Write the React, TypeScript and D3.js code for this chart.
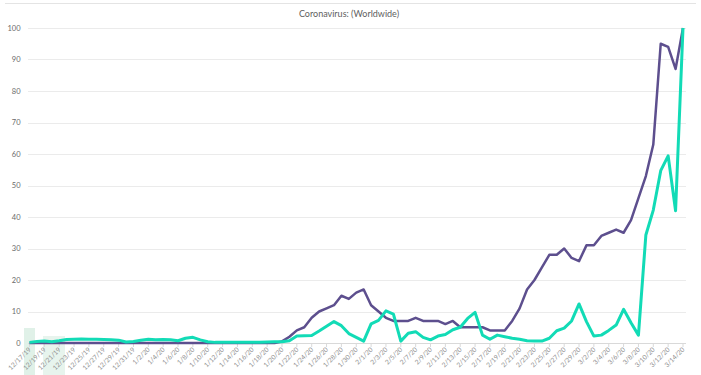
import { useMemo } from "react";
import * as d3 from "d3";

const W = 701;
const H = 375;

const TITLE = "Coronavirus: (Worldwide)";

// daily categories, 12/17/19 .. 3/14/20
const START_DATE = new Date(2019, 11, 17);
const END_DATE = new Date(2020, 2, 14);

const Y_TICKS = [0, 10, 20, 30, 40, 50, 60, 70, 80, 90, 100];

// purple series (one value per day)
const purpleValues = [
  0, 0, 0, 0, 0, 0, 0, 0, 0, 0, 0, 0, 0, 0, 0, 0, 0,
  0, 0, 0, 0, 0, 0, 0, 0, 0, 0, 0, 0, 0, 0, 0, 0, 0,
  0.5, 2, 4, 5, 8, 10, 11, 12, 15, 14, 16, 17, 12, 10, 8, 7, 7,
  7, 8, 7, 7, 7, 6, 7, 5, 5, 5, 5, 4, 4, 4, 7, 11, 17,
  20, 24, 28, 28, 30, 27, 26, 31, 31, 34, 35, 36, 35, 39, 46, 53, 63,
  95, 94, 87, 100,
];

// teal series (one value per day)
const tealValues = [
  0.2, 0.5, 0.6, 0.4, 0.7, 1.1, 1.2, 1.3, 1.2, 1.2, 1.1, 1.0, 0.9, 0.3, 0.5, 0.9, 1.2,
  1.0, 1.1, 1.0, 0.7, 1.5, 1.8, 1.0, 0.4, 0.2, 0.2, 0.2, 0.2, 0.2, 0.2, 0.2, 0.3, 0.4,
  0.4, 0.7, 2.2, 2.3, 2.4, 3.8, 5.3, 6.8, 5.5, 3, 1.8, 0.6, 6.1, 7.2, 10.2, 9.2, 0.6,
  3.1, 3.6, 1.8, 1, 2.2, 2.7, 4.2, 5, 7.8, 9.7, 2.5, 1.2, 2.5, 2, 1.5, 1.2, 0.7,
  0.6, 0.6, 1.5, 3.9, 4.7, 7, 12.4, 6.8, 2.2, 2.5, 4, 5.7, 10.7, 6.4, 2.5, 34.3, 42.2,
  54.7, 59.4, 42, 100,
];

const PURPLE = "#5d4f8e";
const TEAL = "#12dbb6";

const fmt = d3.timeFormat("%-m/%-d/%y");

export default function App() {
  const dates = useMemo(() => d3.timeDay.range(START_DATE, d3.timeDay.offset(END_DATE, 1)), []);

  const x = d3.scaleTime().domain([START_DATE, END_DATE]).range([29.5, 683]);
  const y = d3.scaleLinear().domain([0, 100]).range([343, 28]);

  const labelDates = dates.filter((_, i) => i % 2 === 0);

  const line = d3
    .line<number>()
    .x((_, i) => x(dates[i]))
    .y((d) => y(d));

  return (
    <svg
      width={W}
      height={H}
      style={{ position: "absolute", left: 0, top: 0, background: "#fff" }}
      fontFamily="Lato, 'Open Sans', sans-serif"
    >
      {/* bottom edge of the chart above */}
      <line x1={5} x2={696} y1={3.5} y2={3.5} stroke="#e4e4e4" />

      {/* faint watermark blocks */}
      <rect x={24} y={328} width={11} height={47} fill="#d8eee2" opacity={0.8} />
      <rect x={43} y={336} width={22} height={39} fill="#ddf0e6" opacity={0.7} />

      <text x={349} y={17} textAnchor="middle" fontSize={9} fill="#606060">
        {TITLE}
      </text>

      {/* gridlines + y labels */}
      {Y_TICKS.map((t) => (
        <g key={t}>
          <line
            x1={28}
            x2={686}
            y1={Math.round(y(t)) + 0.5}
            y2={Math.round(y(t)) + 0.5}
            stroke={t === 0 ? "#d9d9d9" : "#ebebeb"}
          />
          <text
            x={20.5}
            y={y(t)}
            dy="0.35em"
            textAnchor="end"
            fontSize={7.5}
            fill="#6a6a6a"
          >
            {t}
          </text>
        </g>
      ))}

      {/* x ticks and rotated labels */}
      {labelDates.map((d) => {
        const px = x(d);
        return (
          <g key={d.getTime()}>
            <line x1={px} x2={px} y1={343.5} y2={347} stroke="#d9d9d9" />
            <text
              transform={`translate(${px + 2},${350}) rotate(-45)`}
              textAnchor="end"
              fontSize={6.6}
              fill="#8e8e8e"
            >
              {fmt(d)}
            </text>
          </g>
        );
      })}

      <path
        d={line(purpleValues) ?? ""}
        fill="none"
        stroke={PURPLE}
        strokeWidth={2.5}
        strokeLinejoin="round"
      />
      <path
        d={line(tealValues) ?? ""}
        fill="none"
        stroke={TEAL}
        strokeWidth={3}
        strokeLinejoin="round"
      />
    </svg>
  );
}
